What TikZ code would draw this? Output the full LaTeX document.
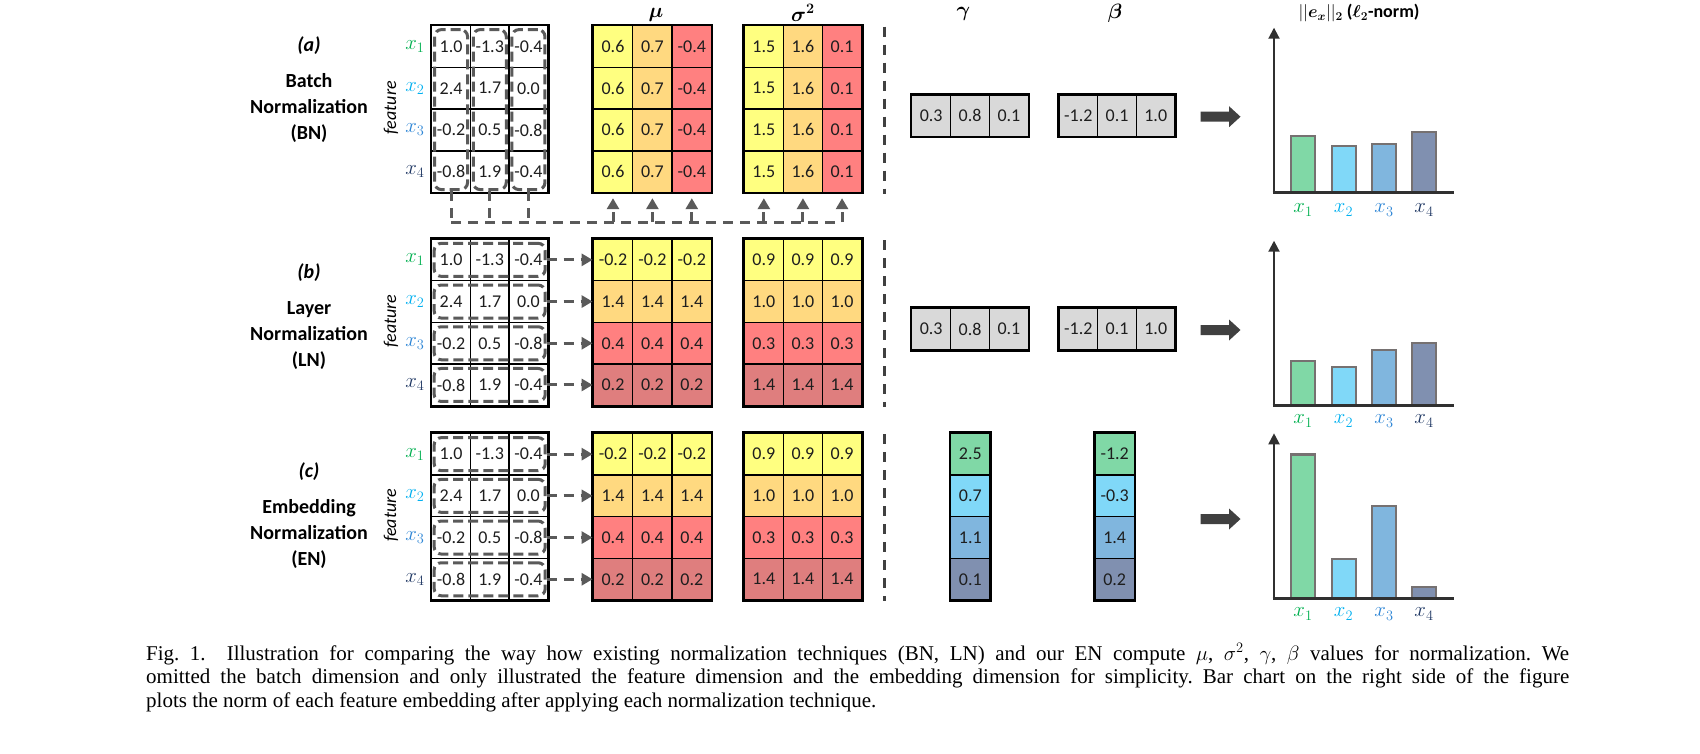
\documentclass[tikz,border=0pt]{standalone}
\usepackage{fontspec}
\usepackage{bm}
\setmainfont{Carlito}
\newfontfamily\capfont{Liberation Serif}
\usetikzlibrary{arrows.meta,calc}
\definecolor{txt}{HTML}{1E1E1E}
\definecolor{cyel}{HTML}{FFFF80}
\definecolor{corg}{HTML}{FFD980}
\definecolor{cred}{HTML}{FF8080}
\definecolor{cdrd}{HTML}{DF7E7E}
\definecolor{cgry}{HTML}{D9D9D9}
\definecolor{bgrn}{HTML}{80D8A6}
\definecolor{bcyn}{HTML}{80D8F8}
\definecolor{bblu}{HTML}{80B6DE}
\definecolor{bsla}{HTML}{8090B0}
\definecolor{lgrn}{HTML}{00B050}
\definecolor{lcyn}{HTML}{00B0F0}
\definecolor{lblu}{HTML}{2E86D6}
\definecolor{lnav}{HTML}{203864}
\definecolor{dgry}{HTML}{5A5A5A}
\definecolor{sepc}{HTML}{404040}
\definecolor{barl}{HTML}{767171}
\definecolor{axc}{HTML}{303030}
\begin{document}
\begin{tikzpicture}[x=1pt,y=-1pt,
  mcell/.style={draw=black, line width=1.4pt, inner sep=0pt, minimum height=41.7pt,
    font=\fontsize{18}{20}\selectfont, text=txt},
  cin/.style={mcell, minimum width=38.7pt},
  cmu/.style={mcell, minimum width=39.4pt},
  csg/.style={mcell, minimum width=39.1pt},
  cgb/.style={mcell, minimum width=38.8pt, fill=cgry},
  cvc/.style={mcell, minimum width=39.3pt},
  obox/.style={draw=black, line width=2.4pt},
  dbox/.style={draw=dgry, line width=3pt, dash pattern=on 10pt off 5pt, rounded corners=7pt, inner sep=0pt},
  dline/.style={draw=dgry, line width=3pt, dash pattern=on 10pt off 7pt},
  darrow/.style={dline, -{Triangle[length=11pt,width=12pt]}},
  vsep/.style={draw=sepc, line width=3pt, dash pattern=on 10pt off 8pt},
  sectlab/.style={font=\fontsize{20}{26}\selectfont\bfseries, align=center, text=black},
  tag/.style={font=\fontsize{20}{24}\selectfont\bfseries\itshape, text=black},
  xl/.style={font=\fontsize{21}{22}\selectfont},
  feat/.style={rotate=90, font=\fontsize{18}{20}\selectfont\itshape, text=black},
  head/.style={font=\fontsize{20}{22}\selectfont, text=black},
  barst/.style={draw=barl, line width=2.4pt},
]
\useasboundingbox (0,0) rectangle (1700,753);
\fill[white] (0,0) rectangle (1700,753);

% ---------- input matrices ----------
\foreach \sx/\ty in {a/25.7,b/239,c/433.3}{
  \foreach \rr/\va/\vb/\vc in {1/1.0/-1.3/-0.4,2/2.4/1.7/0.0,3/-0.2/0.5/-0.8,4/-0.8/1.9/-0.4}{
    \node[cin] (\sx-in-\rr-1) at ({431.7+19.35},{\ty+(\rr-0.5)*41.7}) {\va};
    \node[cin] (\sx-in-\rr-2) at ({431.7+58.05},{\ty+(\rr-0.5)*41.7}) {\vb};
    \node[cin] (\sx-in-\rr-3) at ({431.7+96.75},{\ty+(\rr-0.5)*41.7}) {\vc};
  }
  \draw[obox] (\sx-in-1-1.north west) rectangle (\sx-in-4-3.south east);
  \node[xl, text=lgrn] (\sx-x1) at (415,{\ty+20.85}) {$x_1$};
  \node[xl, text=lcyn] (\sx-x2) at (415,{\ty+62.55}) {$x_2$};
  \node[xl, text=lblu] (\sx-x3) at (415,{\ty+104.25}) {$x_3$};
  \node[xl, text=lnav] (\sx-x4) at (415,{\ty+145.95}) {$x_4$};
  \node[feat] (\sx-feat) at (391,{\ty+82}) {feature};
  \draw[vsep] (884,{\ty+1}) -- (884,{\ty+168});
}

% ---------- section labels ----------
\node[tag] (tag-a) at (309,46) {(a)};
\node[sectlab] (lab-a) at (309,108) {Batch\\Normalization\\(BN)};
\node[tag] (tag-b) at (309,273) {(b)};
\node[sectlab] (lab-b) at (309,336) {Layer\\Normalization\\(LN)};
\node[tag] (tag-c) at (309,471.7) {(c)};
\node[sectlab] (lab-c) at (309,534) {Embedding\\Normalization\\(EN)};

% ---------- BN: column-wise dashed groups ----------
\foreach \cc in {1,2,3}{
  \node[dbox, minimum width=33pt, minimum height=160pt] (a-col-\cc) at ({431.7+(\cc-0.5)*38.7},109.6) {};
}
% ---------- LN / EN: row-wise dashed groups ----------
\foreach \sx/\ty in {b/239,c/433.3}{
  \foreach \rr in {1,2,3,4}{
    \node[dbox, minimum width=111pt, minimum height=33pt] (\sx-row-\rr) at (489.7,{\ty+(\rr-0.5)*41.7}) {};
  }
}

% ---------- mu / sigma^2 (BN) ----------
\foreach \rr in {1,2,3,4}{
  \node[cmu, fill=cyel] (a-mu-\rr-1) at ({593.3+19.7},{25.7+(\rr-0.5)*41.7}) {0.6};
  \node[cmu, fill=corg] (a-mu-\rr-2) at ({593.3+59.1},{25.7+(\rr-0.5)*41.7}) {0.7};
  \node[cmu, fill=cred] (a-mu-\rr-3) at ({593.3+98.5},{25.7+(\rr-0.5)*41.7}) {-0.4};
  \node[csg, fill=cyel] (a-sg-\rr-1) at ({744.3+19.55},{25.7+(\rr-0.5)*41.7}) {1.5};
  \node[csg, fill=corg] (a-sg-\rr-2) at ({744.3+58.65},{25.7+(\rr-0.5)*41.7}) {1.6};
  \node[csg, fill=cred] (a-sg-\rr-3) at ({744.3+97.75},{25.7+(\rr-0.5)*41.7}) {0.1};
}
% ---------- mu / sigma^2 (LN, EN) ----------
\foreach \sx/\ty in {b/239,c/433.3}{
  \foreach \rr/\mval/\sval/\fcol in {1/-0.2/0.9/cyel,2/1.4/1.0/corg,3/0.4/0.3/cred,4/0.2/1.4/cdrd}{
    \foreach \cc in {1,2,3}{
      \node[cmu, fill=\fcol] (\sx-mu-\rr-\cc) at ({593.3+(\cc-0.5)*39.4},{\ty+(\rr-0.5)*41.7}) {\mval};
      \node[csg, fill=\fcol] (\sx-sg-\rr-\cc) at ({744.3+(\cc-0.5)*39.1},{\ty+(\rr-0.5)*41.7}) {\sval};
    }
  }
}
\foreach \sx in {a,b,c}{
  \draw[obox] (\sx-mu-1-1.north west) rectangle (\sx-mu-4-3.south east);
  \draw[obox] (\sx-sg-1-1.north west) rectangle (\sx-sg-4-3.south east);
}
\node[head] (mu-h) at (656,15) {$\bm{\mu}$};
\node[head] (sg-h) at (803,13) {$\bm{\sigma^2}$};
\node[head] (ga-h) at (963.3,14) {$\bm{\gamma}$};
\node[head] (be-h) at (1115,13) {$\bm{\beta}$};

% ---------- BN bus ----------
\coordinate (busR) at (842,222);
\foreach \cc in {1,2,3}{
  \draw[dline] (a-col-\cc.south) -- (a-col-\cc.south |- busR);
}
\draw[dline] (a-col-1.south |- busR) -- (busR);
\foreach \cc in {1,2,3}{
  \draw[darrow, shorten >=5pt] (a-mu-4-\cc.south |- busR) -- (a-mu-4-\cc.south);
  \draw[darrow, shorten >=5pt] (a-sg-4-\cc.south |- busR) -- (a-sg-4-\cc.south);
}
% ---------- LN / EN arrows ----------
\foreach \sx in {b,c}{
  \foreach \rr in {1,2,3,4}{
    \draw[darrow] (\sx-row-\rr.east) -- (\sx-mu-\rr-1.west);
  }
}

% ---------- gamma / beta (BN, LN) ----------
\foreach \sx/\ty in {a/25.7,b/239}{
  \foreach \cc/\gv/\bv in {1/0.3/-1.2,2/0.8/0.1,3/0.1/1.0}{
    \node[cgb] (\sx-g-\cc) at ({911.7+(\cc-0.5)*38.9},{\ty+90}) {\gv};
    \node[cgb] (\sx-b-\cc) at ({1059+(\cc-0.5)*38.7},{\ty+90}) {\bv};
  }
  \draw[obox] (\sx-g-1.north west) rectangle (\sx-g-3.south east);
  \draw[obox] (\sx-b-1.north west) rectangle (\sx-b-3.south east);
}
% ---------- gamma / beta (EN) ----------
\foreach \rr/\gv/\bv/\fcol in {1/2.5/-1.2/bgrn,2/0.7/-0.3/bcyn,3/1.1/1.4/bblu,4/0.1/0.2/bsla}{
  \node[cvc, fill=\fcol] (c-g-\rr) at (970.35,{433.3+(\rr-0.5)*41.7}) {\gv};
  \node[cvc, fill=\fcol] (c-b-\rr) at (1114.65,{433.3+(\rr-0.5)*41.7}) {\bv};
}
\draw[obox] (c-g-1.north west) rectangle (c-g-4.south east);
\draw[obox] (c-b-1.north west) rectangle (c-b-4.south east);

% ---------- big arrows ----------
\foreach \ay in {116.7,330,519}{
  \fill[sepc] (1200.7,{\ay-5}) -- (1229,{\ay-5}) -- (1229,{\ay-10.5}) -- (1240.5,\ay)
    -- (1229,{\ay+10.5}) -- (1229,{\ay+5}) -- (1200.7,{\ay+5}) -- cycle;
}

% ---------- bar charts ----------
\foreach \B/\ha/\hb/\hc/\hd/\ly in {192.7/57/47/49/61/210,405.7/44.7/39/55.7/63/421,598.3/144/39.6/92.3/11.6/614}{
  \draw[barst, fill=bgrn] (1290.7,\B) rectangle (1315,{\B-\ha});
  \draw[barst, fill=bcyn] (1331.7,\B) rectangle (1356,{\B-\hb});
  \draw[barst, fill=bblu] (1371.7,\B) rectangle (1396,{\B-\hc});
  \draw[barst, fill=bsla] (1411.7,\B) rectangle (1436,{\B-\hd});
  \draw[axc, line width=2pt, -{Triangle[length=11pt,width=11pt]}] (1274,{\B+1}) -- (1274,{\B-165});
  \draw[axc, line width=3pt] (1272.5,\B) -- (1454,\B);
  \node[xl, text=lgrn] at (1303,\ly) {$x_1$};
  \node[xl, text=lcyn] at (1343.5,\ly) {$x_2$};
  \node[xl, text=lblu] at (1384,\ly) {$x_3$};
  \node[xl, text=lnav] at (1424,\ly) {$x_4$};
}
\node[font=\fontsize{18}{20}\selectfont\bfseries, text=black] (chart-h) at (1359,13)
  {$||\bm{e}_{\bm{x}}||_{\bm 2}$ ($\bm{\ell}_{\bm 2}$-norm)};

% ---------- caption ----------
\node[anchor=north west, text width=1423pt, align=justify, inner sep=0pt,
  font=\capfont\fontsize{21}{23.5}\selectfont\frenchspacing] (cap) at (146,643)
  {Fig.~1.\ \ Illustration for comparing the way how existing normalization techniques (BN, LN) and our EN compute $\mu$, $\sigma^2$, $\gamma$, $\beta$ values for normalization. We\linebreak omitted the batch dimension and only illustrated the feature dimension and the embedding dimension for simplicity. Bar chart on the right side of the figure\linebreak plots the norm of each feature embedding after applying each normalization technique.};
\end{tikzpicture}
\end{document}
